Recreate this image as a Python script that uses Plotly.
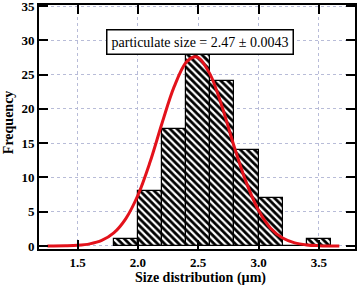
import plotly.graph_objects as go

bin_centers = [1.9, 2.1, 2.3, 2.5, 2.7, 2.9, 3.1, 3.3, 3.5]
counts = [1, 8, 17, 28, 24, 14, 7, 0, 1]
bin_width = 0.2

fit_x = [1.25, 1.4, 1.5, 1.6, 1.7, 1.8, 1.9, 2.0, 2.1, 2.2, 2.3, 2.4, 2.47, 2.5, 2.6, 2.7,
         2.8, 2.9, 3.0, 3.1, 3.2, 3.3, 3.4, 3.5, 3.6, 3.67]
fit_y = [0.0, 0.03, 0.1, 0.31, 0.81, 1.91, 4.0, 7.4, 12.2, 17.9, 23.2, 26.8, 27.6, 27.5, 25.0, 20.2,
         14.4, 9.2, 5.2, 2.6, 1.16, 0.46, 0.16, 0.05, 0.01, 0.0]

x_ticks = [1.5, 2.0, 2.5, 3.0, 3.5]
y_ticks = [0, 5, 10, 15, 20, 25, 30, 35]
label_text = "particulate size = 2.47 ± 0.0043"

fig = go.Figure()
fig.add_trace(go.Bar(
    x=bin_centers, y=counts, width=bin_width,
    marker=dict(color="white", line=dict(color="black", width=1.2),
                pattern=dict(shape="\\", fgcolor="black", bgcolor="white", size=5, solidity=0.55)),
    showlegend=False,
))
fig.add_trace(go.Scatter(
    x=fit_x, y=fit_y, mode="lines", line=dict(color="#e3121b", width=3, shape="spline"),
    showlegend=False,
))

tickfont = dict(family="Liberation Serif", size=13, color="black", weight="bold")
axis_common = dict(
    showline=True, linecolor="black", linewidth=2, mirror="ticks",
    ticks="inside", ticklen=9, tickwidth=1.5, tickcolor="black",
    showgrid=True, gridcolor="#b8bcd8", griddash="dot", gridwidth=1,
    zeroline=False, tickfont=tickfont, automargin=False, ticklabeloverflow="allow",
)
fig.update_xaxes(range=[1.18, 3.8], tickvals=x_ticks, ticktext=[f"{v:.1f}" for v in x_ticks], **axis_common)
fig.update_yaxes(range=[-0.44, 35.15], tickvals=y_ticks, **axis_common)

fig.add_annotation(
    x=0.508, y=0.90, xref="paper", yref="paper", text=label_text, showarrow=False,
    font=dict(family="Liberation Serif", size=14, color="black"),
    bordercolor="black", borderwidth=1.5, borderpad=4, bgcolor="white",
)
fig.add_annotation(
    x=0.51, y=-0.118, xref="paper", yref="paper", text="Size distribution (µm)", showarrow=False,
    font=dict(family="Liberation Serif", size=14, color="black", weight="bold"), yanchor="middle",
)
fig.add_annotation(
    x=-0.098, y=0.52, xref="paper", yref="paper", text="Frequency", showarrow=False, textangle=-90,
    font=dict(family="Liberation Serif", size=14, color="black", weight="bold"), xanchor="center",
)

fig.update_layout(
    template="none",
    width=360, height=287, margin=dict(l=39, r=5, t=5, b=38, autoexpand=False),
    paper_bgcolor="white", plot_bgcolor="white", bargap=0,
)
fig.write_html("out.html", config={"displayModeBar": False},
               post_script="document.body.style.margin='0';document.body.style.overflow='hidden';")
